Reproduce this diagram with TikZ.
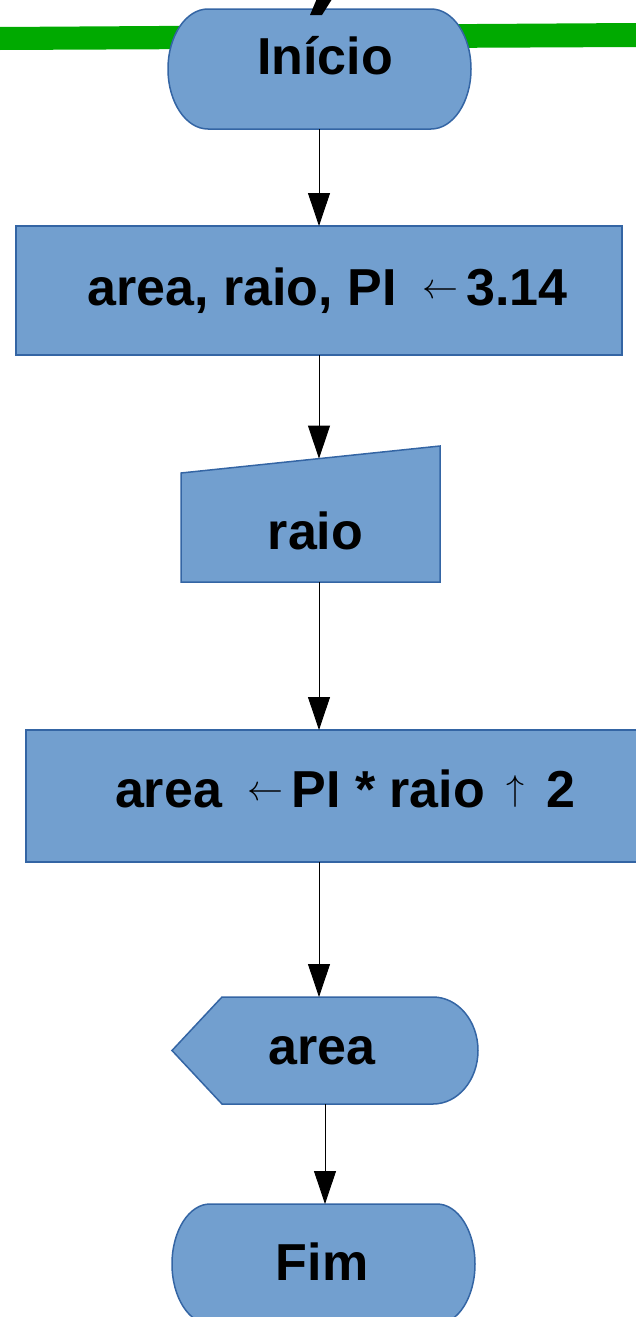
\documentclass[tikz,border=0pt]{standalone}
\usepackage{fontspec}
\usepackage{graphicx}
\setmainfont{Liberation Sans}
\usetikzlibrary{arrows.meta,calc}

\definecolor{shapeblue}{HTML}{729FCF}
\definecolor{shapeedge}{HTML}{3465A4}
\definecolor{band}{RGB}{0,170,0}

% thin math arrows used inside the bold labels
\newcommand\assignarrow{\kern11pt\raisebox{6.5pt}{\resizebox{36pt}{!}{\fontsize{10}{12}\selectfont$\leftarrow$}}\kern8pt}
\newcommand\powarrow{\kern7pt\raisebox{6.5pt}{\resizebox*{!}{32pt}{\fontsize{10}{12}\selectfont$\uparrow$}}\kern7pt}

\tikzset{
  flow/.style={draw=black, line width=0.9pt, -{Triangle[length=33pt,width=22pt]}},
  shapefill/.style={fill=shapeblue, draw=shapeedge, line width=1.5pt},
  shapebox/.style={rectangle, inner sep=0pt, outer sep=0pt, draw=none},
  procbox/.style={rectangle, inner sep=0pt, outer sep=0pt, shapefill},
  txt/.style={font=\bfseries\fontsize{52}{60}\selectfont, inner sep=0pt, anchor=base},
}

\begin{document}
\begin{tikzpicture}[x=1pt, y=-1pt]
\useasboundingbox (0,0) rectangle (636,1317);

% green band behind the start terminal
\fill[band] (0,27) -- (636,23) -- (636,47) -- (0,50) -- cycle;

% start terminal
\node[shapebox, minimum width=303, minimum height=120] (ini) at (319.5,69) {};
\draw[shapefill] ($(ini.north west)+(40,0)$) -- ($(ini.north east)+(-40,0)$)
  arc[start angle=-90, end angle=90, x radius=40, y radius=60]
  -- ($(ini.south west)+(40,0)$)
  arc[start angle=90, end angle=270, x radius=40, y radius=60] -- cycle;
\node[txt] (tini) at (325,74) {Início};
\fill (318,-4) -- (334,-4) -- (322,15) -- (310,15) -- cycle;

% declaration
\node[procbox, minimum width=606, minimum height=129] (init) at (319,290.5) {};
\node[txt] (tinit) at (327.5,305) {area, raio, PI \assignarrow3.14};

% manual input
\node[shapebox, minimum width=259, minimum height=136] (inp) at (310.5,514) {};
\draw[shapefill] (inp.south west) -- ($(inp.north west)+(0,27)$) -- (inp.north east)
  -- (inp.south east) -- cycle;
\coordinate (inptop) at (319,458.6);
\node[txt] (tinp) at (315.5,549) {raio};

% computation
\node[procbox, minimum width=615, minimum height=132] (calc) at (333.5,796) {};
\node[txt] (tcalc) at (345,807) {area \assignarrow PI * raio \powarrow{} 2};

% display
\node[shapebox, minimum width=306, minimum height=107] (out) at (325,1050.5) {};
\draw[shapefill] (out.west) -- ($(out.north west)+(50,0)$) -- ($(out.north east)+(-45,0)$)
  arc[start angle=-90, end angle=90, x radius=45, y radius=53.5]
  -- ($(out.south west)+(50,0)$) -- cycle;
\node[txt] (tout) at (322,1064) {area};

% end terminal
\node[shapebox, minimum width=303, minimum height=120] (fim) at (323.5,1264) {};
\draw[shapefill] ($(fim.north west)+(38,0)$) -- ($(fim.north east)+(-38,0)$)
  arc[start angle=-90, end angle=90, x radius=38, y radius=60]
  -- ($(fim.south west)+(38,0)$)
  arc[start angle=90, end angle=270, x radius=38, y radius=60] -- cycle;
\node[txt] (tfim) at (322,1280) {Fim};

% connectors
\coordinate (spine) at (319,0);
\draw[flow] (ini.south -| spine) -- (init.north -| spine);
\draw[flow] (init.south -| spine) -- (inptop);
\draw[flow] (inp.south -| spine) -- (calc.north -| spine);
\draw[flow] (calc.south -| spine) -- (out.north -| spine);
\draw[flow] (out.south) -- (out.south |- fim.north);
\end{tikzpicture}
\end{document}
